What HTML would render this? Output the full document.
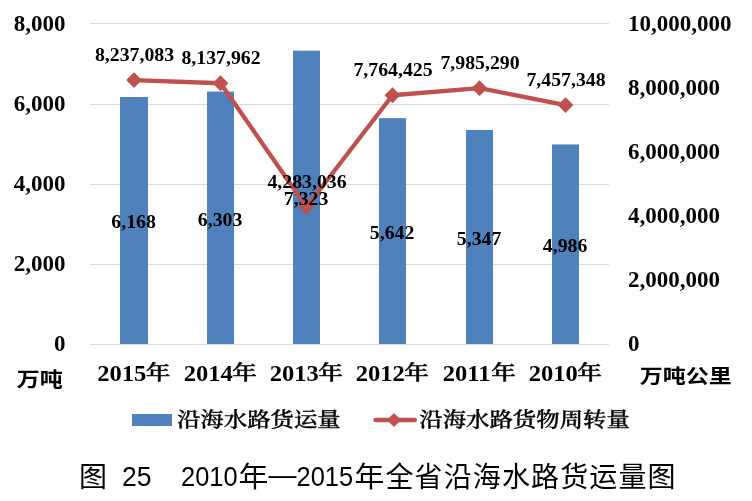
<!DOCTYPE html>
<html><head><meta charset="utf-8"><style>
html,body{margin:0;padding:0;background:#fff;}
body{width:752px;height:501px;overflow:hidden;position:relative;}
svg{position:absolute;left:0;top:0;will-change:transform;}
.ax{font-family:"Liberation Serif",serif;font-weight:bold;font-size:23px;fill:#000;}
.dl{font-family:"Liberation Serif",serif;font-weight:bold;font-size:18px;fill:#000;}
.cat{font-family:"Liberation Serif",serif;font-weight:bold;font-size:23px;fill:#000;}
.nian{font-family:"Liberation Serif","Noto Serif CJK SC",serif;font-weight:500;font-size:22px;fill:#000;stroke:#000;stroke-width:0.55px;}
.unit{font-family:"Liberation Sans","Noto Sans CJK SC",sans-serif;font-weight:700;font-size:23px;fill:#000;}
.leg{font-family:"Liberation Serif","Noto Serif CJK SC",serif;font-weight:500;font-size:23.4px;fill:#000;stroke:#000;stroke-width:0.45px;}
.cap{font-family:"Liberation Sans","Noto Sans CJK SC",sans-serif;font-size:28px;fill:#000;}
.capd{font-family:"Liberation Sans",sans-serif;font-size:27.6px;fill:#000;}
</style></head><body>
<svg width="752" height="501" viewBox="0 0 752 501">

<rect x="90" y="23" width="519" height="1" fill="#D9D9D9"/>
<rect x="90" y="104" width="519" height="1" fill="#D9D9D9"/>
<rect x="90" y="184" width="519" height="1" fill="#D9D9D9"/>
<rect x="90" y="264" width="519" height="1" fill="#D9D9D9"/>
<rect x="90" y="344" width="519" height="1" fill="#D9D9D9"/>
<rect x="120" y="97.01" width="28" height="246.99" fill="#4F81BD"/>
<rect x="207" y="91.59" width="27" height="252.41" fill="#4F81BD"/>
<rect x="293" y="50.66" width="27" height="293.34" fill="#4F81BD"/>
<rect x="379" y="118.11" width="27" height="225.89" fill="#4F81BD"/>
<rect x="466" y="129.95" width="27" height="214.05" fill="#4F81BD"/>
<rect x="552" y="144.44" width="27" height="199.56" fill="#4F81BD"/>
<polyline points="134.00,80.09 220.50,83.27 306.50,207.01 392.50,95.26 479.50,88.17 565.50,105.12" fill="none" stroke="#C0504D" stroke-width="4.3" stroke-linejoin="round" stroke-linecap="round"/>
<path d="M134.00 72.19 L141.90 80.09 L134.00 87.99 L126.10 80.09Z" fill="#C0504D"/>
<path d="M220.50 75.37 L228.40 83.27 L220.50 91.17 L212.60 83.27Z" fill="#C0504D"/>
<path d="M306.50 199.11 L314.40 207.01 L306.50 214.91 L298.60 207.01Z" fill="#C0504D"/>
<path d="M392.50 87.36 L400.40 95.26 L392.50 103.16 L384.60 95.26Z" fill="#C0504D"/>
<path d="M479.50 80.27 L487.40 88.17 L479.50 96.07 L471.60 88.17Z" fill="#C0504D"/>
<path d="M565.50 97.22 L573.40 105.12 L565.50 113.02 L557.60 105.12Z" fill="#C0504D"/>
<text class="ax" x="65.5" y="31.10" text-anchor="end">8,000</text>
<text class="ax" x="65.5" y="111.10" text-anchor="end">6,000</text>
<text class="ax" x="65.5" y="191.10" text-anchor="end">4,000</text>
<text class="ax" x="65.5" y="271.10" text-anchor="end">2,000</text>
<text class="ax" x="65.5" y="351.10" text-anchor="end">0</text>
<text class="ax" x="628" y="30.90">10,000,000</text>
<text class="ax" x="628" y="95.00">8,000,000</text>
<text class="ax" x="628" y="159.10">6,000,000</text>
<text class="ax" x="628" y="223.20">4,000,000</text>
<text class="ax" x="628" y="287.30">2,000,000</text>
<text class="ax" x="628" y="350.80">0</text>
<text class="cat" x="0" y="0" transform="translate(97.23 380.9) scale(1.07 1)">2015</text>
<text class="nian" x="0" y="0" transform="translate(145.80 379.8) scale(1.12 0.92)">年</text>
<text class="cat" x="0" y="0" transform="translate(183.73 380.9) scale(1.07 1)">2014</text>
<text class="nian" x="0" y="0" transform="translate(232.30 379.8) scale(1.12 0.92)">年</text>
<text class="cat" x="0" y="0" transform="translate(269.73 380.9) scale(1.07 1)">2013</text>
<text class="nian" x="0" y="0" transform="translate(318.30 379.8) scale(1.12 0.92)">年</text>
<text class="cat" x="0" y="0" transform="translate(355.73 380.9) scale(1.07 1)">2012</text>
<text class="nian" x="0" y="0" transform="translate(404.30 379.8) scale(1.12 0.92)">年</text>
<text class="cat" x="0" y="0" transform="translate(442.73 380.9) scale(1.07 1)">2011</text>
<text class="nian" x="0" y="0" transform="translate(491.30 379.8) scale(1.12 0.92)">年</text>
<text class="cat" x="0" y="0" transform="translate(528.73 380.9) scale(1.07 1)">2010</text>
<text class="nian" x="0" y="0" transform="translate(577.30 379.8) scale(1.12 0.92)">年</text>
<text class="unit" x="16.8" y="0" transform="translate(0 380.1) scale(1 0.87) translate(0 8)">万吨</text>
<text class="unit" x="639.7" y="0" transform="translate(0 376.1) scale(1 0.85) translate(0 8)">万吨公里</text>
<text class="dl" x="0" y="0" text-anchor="middle" transform="translate(134.50 60.69) scale(1.1 1)">8,237,083</text>
<text class="dl" x="0" y="0" text-anchor="middle" transform="translate(221.00 63.87) scale(1.1 1)">8,137,962</text>
<text class="dl" x="0" y="0" text-anchor="middle" transform="translate(307.00 187.61) scale(1.1 1)">4,283,036</text>
<text class="dl" x="0" y="0" text-anchor="middle" transform="translate(393.00 75.86) scale(1.1 1)">7,764,425</text>
<text class="dl" x="0" y="0" text-anchor="middle" transform="translate(480.00 68.77) scale(1.1 1)">7,985,290</text>
<text class="dl" x="0" y="0" text-anchor="middle" transform="translate(566.00 85.72) scale(1.1 1)">7,457,348</text>
<text class="dl" x="0" y="0" text-anchor="middle" transform="translate(133.60 228.45) scale(1.1 1)">6,168</text>
<text class="dl" x="0" y="0" text-anchor="middle" transform="translate(220.10 225.75) scale(1.1 1)">6,303</text>
<text class="dl" x="0" y="0" text-anchor="middle" transform="translate(306.10 205.28) scale(1.1 1)">7,323</text>
<text class="dl" x="0" y="0" text-anchor="middle" transform="translate(392.10 239.01) scale(1.1 1)">5,642</text>
<text class="dl" x="0" y="0" text-anchor="middle" transform="translate(479.10 244.93) scale(1.1 1)">5,347</text>
<text class="dl" x="0" y="0" text-anchor="middle" transform="translate(565.10 252.17) scale(1.1 1)">4,986</text>
<rect x="132" y="414" width="40" height="12" fill="#4F81BD"/>
<text class="leg" x="177" y="0" transform="translate(0 419.3) scale(1 0.88) translate(0 8.7)">沿海水路货运量</text>
<line x1="375.5" y1="420" x2="415" y2="420" stroke="#C0504D" stroke-width="4.3" stroke-linecap="round"/>
<path d="M394 413 L401 420 L394 427 L387 420Z" fill="#C0504D"/>
<text class="leg" x="419.3" y="0" transform="translate(0 419.3) scale(1 0.88) translate(0 8.7)">沿海水路货物周转量</text>
<text class="cap" x="79" y="487">图</text>
<text class="capd" x="122" y="486.4" textLength="29.5" lengthAdjust="spacingAndGlyphs">25</text>
<text class="capd" x="181" y="486.4" textLength="56.6" lengthAdjust="spacingAndGlyphs">2010</text>
<text class="cap" x="238.4" y="487" textLength="29.9" lengthAdjust="spacingAndGlyphs">年</text>
<text class="capd" x="268.5" y="484" textLength="28" lengthAdjust="spacingAndGlyphs">—</text>
<text class="capd" x="296.5" y="486.4" textLength="56.6" lengthAdjust="spacingAndGlyphs">2015</text>
<text class="cap" x="354.4" y="487" textLength="29.9" lengthAdjust="spacingAndGlyphs">年</text>
<text class="cap" x="385.5" y="487" textLength="290" lengthAdjust="spacing">全省沿海水路货运量图</text>
</svg></body></html>
